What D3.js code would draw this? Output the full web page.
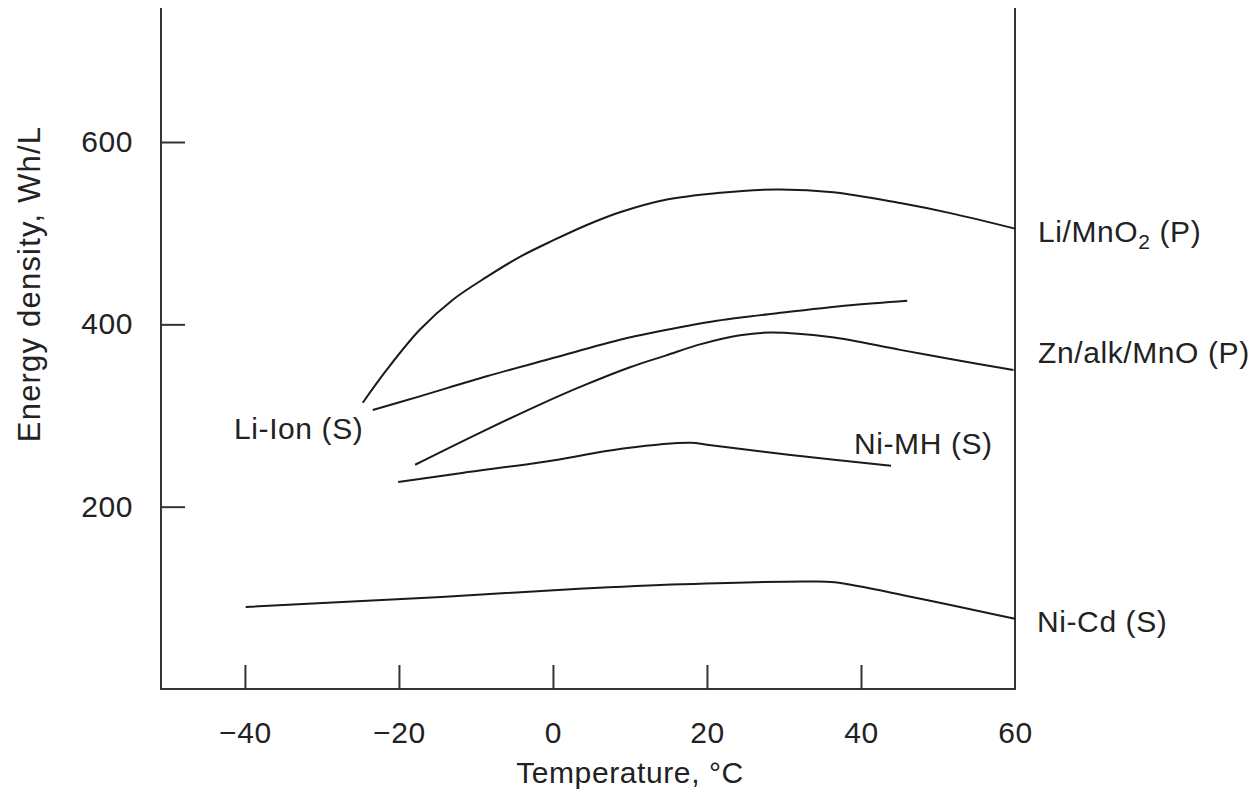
<!DOCTYPE html>
<html>
<head>
  <meta charset="utf-8">
  <title>Energy density vs temperature</title>
  <style>
    body { margin: 0; background: #fff; }
    text { font-family: "Liberation Sans", Arial, Helvetica, sans-serif; fill: #222; letter-spacing: 0.6px; }
  </style>
</head>
<body>
<div id="chart"></div>
<script src="https://d3js.org/d3.v7.min.js"></script>
<script>
// values (temperature in C, energy density in Wh/L)
var liMnO2Temp = [-24.7, -21.6, -17.3, -13.0, -8.6, -4.3, 0, 4.4, 8.7, 14.8, 21.3, 29.1, 36.4, 45.1, 51.6, 60];
var liMnO2Wh   = [314, 350, 394, 427, 452, 474, 492, 509, 523, 537, 544, 548, 545, 533, 522, 505];

var liIonTemp = [-23.4, -17.3, -8.6, 0, 8.7, 13.0, 21.3, 29.9, 38.6, 46];
var liIonWh   = [306, 321, 343, 363, 383, 391, 404, 413, 421, 426];

var znAlkTemp = [-17.9, -9.5, -1.7, 4.0, 10.0, 14.7, 19.1, 24.3, 28.2, 36.0, 45.1, 51.6, 59.8];
var znAlkWh   = [246, 281, 312, 333, 353, 366, 378, 388, 391, 386, 372, 362, 350];

var niMHTemp = [-20.1, -11.8, -1.3, 9.4, 17.9, 20.0, 30.6, 43.9];
var niMHWh   = [227, 237, 249, 264, 270, 268, 257, 245];

var niCdTemp = [-39.9, -14.5, 3.4, 16.8, 33.4, 36.6, 46.6, 60];
var niCdWh   = [90, 101, 110, 115, 118, 117, 101, 77];

var xTicks = [-40, -20, 0, 20, 40, 60];
var yTicks = [200, 400, 600];

var w = 1251;
var h = 794;

var svg = d3.select("#chart")
            .append("svg")
            .attr("width", w)
            .attr("height", h);

var x = d3.scaleLinear().domain([-50.9, 60]).range([161, 1015]);
var y = d3.scaleLinear().domain([0, 747]).range([689, 8]);

// frame: left, bottom, right (no top)
svg.append("path")
   .attr("d", "M" + x(-50.9) + "," + y(747) + "V" + y(0) + "H" + x(60) + "V" + y(747))
   .attr("fill", "none")
   .attr("stroke", "#333")
   .attr("stroke-width", 2);

// axes, ticks pointing inward
var xAxis = svg.append("g")
   .attr("transform", "translate(0," + y(0) + ")")
   .call(d3.axisBottom(x).tickValues(xTicks).tickSize(-24).tickPadding(33));
var yAxis = svg.append("g")
   .attr("transform", "translate(" + x(-50.9) + ",0)")
   .call(d3.axisLeft(y).tickValues(yTicks).tickSize(-24).tickPadding(28));

[xAxis, yAxis].forEach(function (g) {
  g.select(".domain").remove();
  g.selectAll("line").attr("stroke", "#333").attr("stroke-width", 2);
  g.selectAll("text").attr("font-size", "30px").attr("fill", "#222")
   .attr("font-family", "Liberation Sans, Arial, sans-serif");
});
// the 60 tick sits on the right border
xAxis.selectAll(".tick").filter(function (d) { return d === 60; }).select("line").remove();

// axis titles
svg.append("text")
   .attr("x", 630)
   .attr("y", 783)
   .attr("text-anchor", "middle")
   .attr("font-size", "30px")
   .text("Temperature, \u00b0C");

svg.append("text")
   .attr("transform", "translate(40,284) rotate(-90)")
   .attr("text-anchor", "middle")
   .attr("font-size", "31px")
   .style("letter-spacing", "1.2px")
   .text("Energy density, Wh/L");

// curves
var series = [
  [liMnO2Temp, liMnO2Wh],
  [liIonTemp, liIonWh],
  [znAlkTemp, znAlkWh],
  [niMHTemp, niMHWh],
  [niCdTemp, niCdWh]
];

var line = d3.line()
             .x(function (d) { return x(d[0]); })
             .y(function (d) { return y(d[1]); })
             .curve(d3.curveCatmullRom.alpha(0.5));

svg.selectAll("path.curve")
   .data(series.map(function (s) {
     return s[0].map(function (t, i) { return [t, s[1][i]]; });
   }))
   .enter()
   .append("path")
   .attr("class", "curve")
   .attr("d", line)
   .attr("fill", "none")
   .attr("stroke", "#1a1a1a")
   .attr("stroke-width", 2);

// curve labels
var lab1 = svg.append("text").attr("x", 1038).attr("y", 242).attr("font-size", "30px");
lab1.append("tspan").text("Li/MnO");
lab1.append("tspan").attr("font-size", "21px").attr("dy", 7).text("2");
lab1.append("tspan").attr("dy", -7).text(" (P)");

svg.append("text").attr("x", 1038).attr("y", 363).attr("font-size", "30px").text("Zn/alk/MnO (P)");
svg.append("text").attr("x", 234).attr("y", 439).attr("font-size", "30px").text("Li-Ion (S)");
svg.append("text").attr("x", 854).attr("y", 454).attr("font-size", "30px").text("Ni-MH (S)");
svg.append("text").attr("x", 1037).attr("y", 632).attr("font-size", "30px").text("Ni-Cd (S)");
</script>
</body>
</html>
